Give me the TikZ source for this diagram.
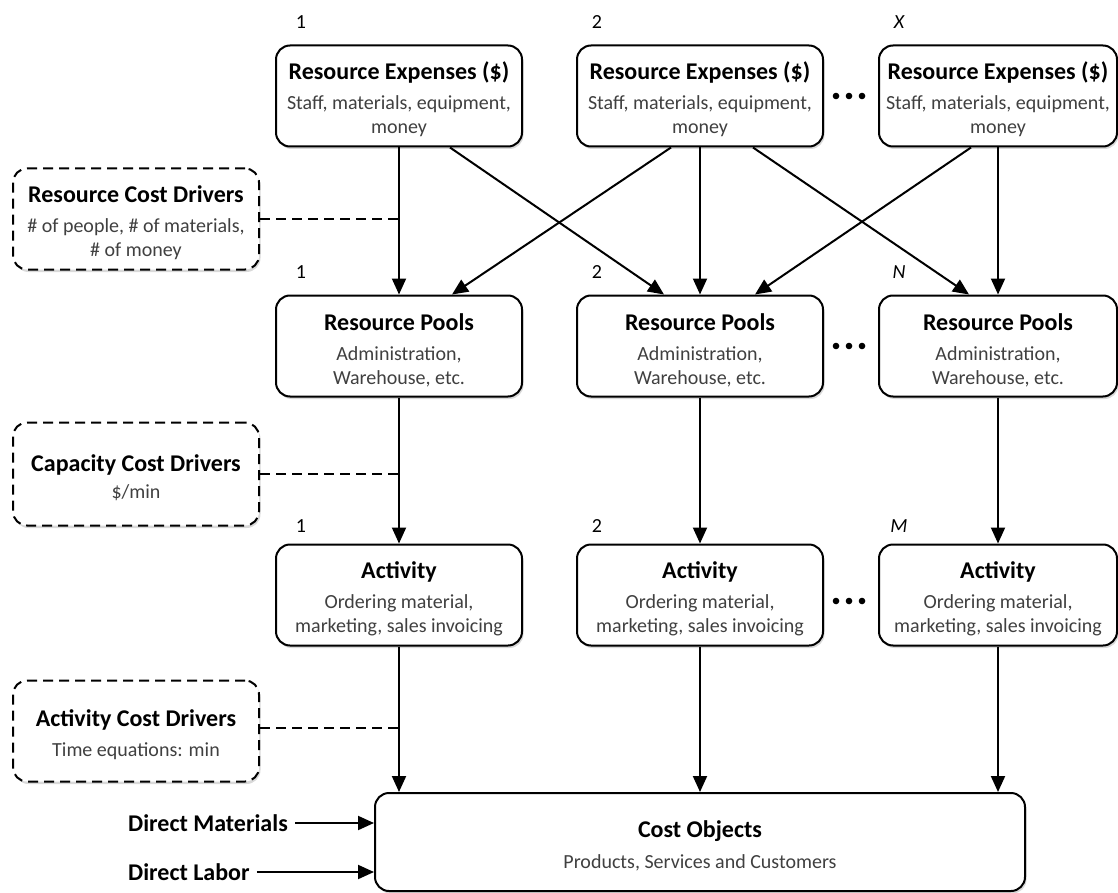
\documentclass[tikz,border=0pt]{standalone}
\usepackage{fontspec}
\setmainfont{Carlito}
\usetikzlibrary{arrows.meta,positioning,calc,shadows}
\definecolor{subgray}{RGB}{64,64,64}
\tikzset{
  stage/.style={draw, line width=2pt, rounded corners=14pt, fill=white,
    minimum width=246pt, minimum height=101pt, align=center, inner sep=2pt,
    font=\fontsize{20}{24}\selectfont,
    drop shadow={shadow xshift=1.5pt, shadow yshift=-2.5pt, opacity=0.3}},
  driver/.style={stage, dash pattern=on 10pt off 6pt},
  flow/.style={-{Triangle[length=16pt,width=14pt]}, line width=2pt},
  tie/.style={line width=2pt, dash pattern=on 10pt off 6pt},
  idx/.style={font=\fontsize{20}{22}\selectfont, inner sep=0pt},
  side/.style={font=\fontsize{24}{28}\selectfont\bfseries, inner sep=7pt},
}
\newcommand{\ttl}[1]{{\fontsize{24}{26}\selectfont\bfseries\rule{0pt}{25pt}#1}}
\newcommand{\subtxt}[1]{{\color{subgray}#1}}

\begin{document}
\begin{tikzpicture}[x=1pt,y=-1pt]
  \useasboundingbox (0,0) rectangle (1118,893);
  % resource expenses
  \node[stage] (e1) at (399,96) {\ttl{Resource Expenses (\$)}\\[6pt] \subtxt{Staff, materials, equipment,}\\ \subtxt{money}};
  \node[stage] (e2) at (700,96) {\ttl{Resource Expenses (\$)}\\[6pt] \subtxt{Staff, materials, equipment,}\\ \subtxt{money}};
  \node[stage, minimum width=238pt] (ex) at (998,96) {\ttl{Resource Expenses (\$)}\\[6pt] \subtxt{Staff, materials, equipment,}\\ \subtxt{money}};
  % resource pools
  \node[stage] (p1) at (399,346) {\ttl{Resource Pools}\\[6pt] \subtxt{Administration,}\\ \subtxt{Warehouse, etc.}};
  \node[stage] (p2) at (700,346) {\ttl{Resource Pools}\\[6pt] \subtxt{Administration,}\\ \subtxt{Warehouse, etc.}};
  \node[stage, minimum width=238pt] (pn) at (998,346) {\ttl{Resource Pools}\\[6pt] \subtxt{Administration,}\\ \subtxt{Warehouse, etc.}};
  % activities
  \node[stage] (a1) at (399,595) {\ttl{Activity}\\[6pt] \subtxt{Ordering material,}\\ \subtxt{marketing, sales invoicing}};
  \node[stage] (a2) at (700,595) {\ttl{Activity}\\[6pt] \subtxt{Ordering material,}\\ \subtxt{marketing, sales invoicing}};
  \node[stage, minimum width=238pt] (am) at (998,595) {\ttl{Activity}\\[6pt] \subtxt{Ordering material,}\\ \subtxt{marketing, sales invoicing}};
  % cost drivers
  \node[driver] (rcd) at (136,219) {\ttl{Resource Cost Drivers}\\[6pt] \subtxt{\# of people, \# of materials,}\\ \subtxt{\# of money}};
  \node[driver, minimum height=103pt] (ccd) at (136,474) {\ttl{Capacity Cost Drivers}\\[3pt] \subtxt{\$/min}};
  \node[driver] (acd) at (136,731) {\ttl{Activity Cost Drivers}\\[6pt] \subtxt{Time equations: min}};
  % cost objects
  \node[stage, minimum width=650pt, minimum height=98pt] (co) at (700,842) {\ttl{Cost Objects}\\[7pt] \subtxt{Products, Services and Customers}};
  \node[side, anchor=west] (dm) at (121,823) {Direct Materials};
  \node[side, anchor=west] (dl) at (121,872) {Direct Labor};

  % indices
  \node[idx] (e1i) at ([xshift=26pt,yshift=22pt]e1.north west) {1};
  \node[idx] (e2i) at ([xshift=21pt,yshift=22pt]e2.north west) {2};
  \node[idx] (exi) at ([xshift=21pt,yshift=22pt]ex.north west) {\itshape X};
  \node[idx] (p1i) at ([xshift=26pt,yshift=22pt]p1.north west) {1};
  \node[idx] (p2i) at ([xshift=21pt,yshift=22pt]p2.north west) {2};
  \node[idx] (pni) at ([xshift=21pt,yshift=22pt]pn.north west) {\itshape N};
  \node[idx] (a1i) at ([xshift=26pt,yshift=17pt]a1.north west) {1};
  \node[idx] (a2i) at ([xshift=21pt,yshift=17pt]a2.north west) {2};
  \node[idx] (ami) at ([xshift=21pt,yshift=17pt]am.north west) {\itshape M};

  % ellipses
  \foreach \r in {96,346,601}
    \foreach \dx in {-13,0,13}
      \fill (849+\dx,\r) circle (3.3pt);

  % expenses -> pools
  \draw[flow] (e1) -- (p1);
  \draw[flow] (e2) -- (p2);
  \draw[flow] (ex) -- (pn);
  \draw[flow] ([xshift=51pt]e1.south) -- ([xshift=-36pt]p2.north);
  \draw[flow] ([xshift=-29pt]e2.south) -- ([xshift=53pt]p1.north);
  \draw[flow] ([xshift=53pt]e2.south) -- ([xshift=-29pt]pn.north);
  \draw[flow] ([xshift=-27pt]ex.south) -- ([xshift=55pt]p2.north);
  % pools -> activities
  \draw[flow] (p1) -- (a1);
  \draw[flow] (p2) -- (a2);
  \draw[flow] (pn) -- (am);
  % activities -> cost objects
  \draw[flow] (a1.south) -- (a1.south |- co.north);
  \draw[flow] (a2.south) -- (a2.south |- co.north);
  \draw[flow] (am.south) -- (am.south |- co.north);
  \draw[flow] (dm) -- (dm -| co.west);
  \draw[flow] (dl) -- (dl -| co.west);
  % driver ties
  \draw[tie] (rcd.east) -- (rcd.east -| p1.north);
  \draw[tie] (ccd.east) -- (ccd.east -| a1.north);
  \draw[tie] ([yshift=3pt]acd.east) -- ([yshift=3pt]acd.east -| a1.south);
\end{tikzpicture}
\end{document}
